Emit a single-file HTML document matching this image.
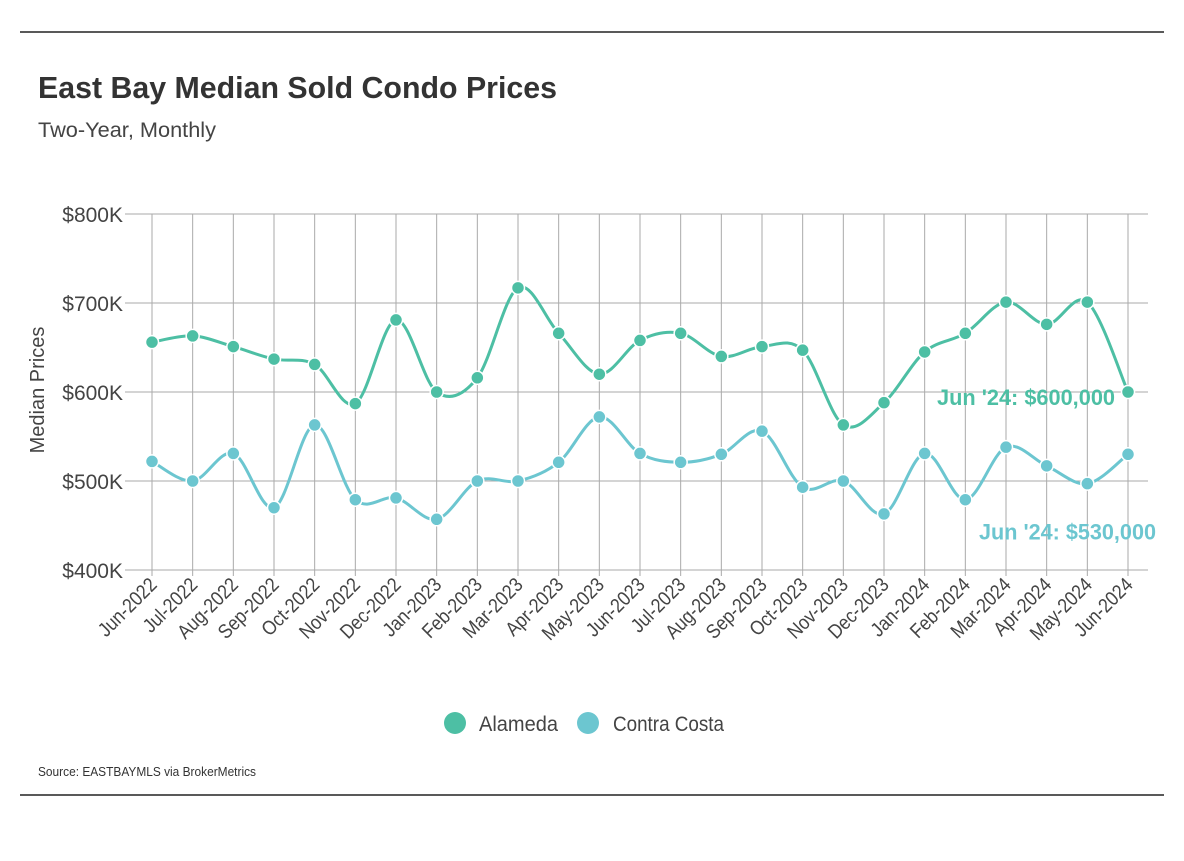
<!DOCTYPE html>
<html><head><meta charset="utf-8"><style>
body{margin:0;background:#fff;width:1184px;height:856px;overflow:hidden;font-family:"Liberation Sans Narrow","Liberation Sans",sans-serif;}
svg text{font-family:"Liberation Sans Narrow","Liberation Sans",sans-serif;}
</style></head><body>
<svg width="1184" height="856">
<line x1="20" y1="32" x2="1164" y2="32" stroke="#222" stroke-width="1.5"/>
<line x1="20" y1="795" x2="1164" y2="795" stroke="#222" stroke-width="1.5"/>
<text x="38" y="98" font-size="31" font-weight="bold" fill="#333" textLength="519" lengthAdjust="spacingAndGlyphs">East Bay Median Sold Condo Prices</text>
<text x="38" y="137" font-size="21" fill="#444" textLength="178" lengthAdjust="spacingAndGlyphs">Two-Year, Monthly</text>
<text transform="translate(44,390) rotate(-90)" text-anchor="middle" font-size="20" fill="#444">Median Prices</text>
<g id="grid"></g><g id="series"></g>
<g>
<circle cx="455" cy="723" r="11" fill="#4dbfa4"/>
<text x="479" y="731" font-size="21" fill="#444" textLength="79" lengthAdjust="spacingAndGlyphs">Alameda</text>
<circle cx="588" cy="723" r="11" fill="#6cc6d0"/>
<text x="613" y="731" font-size="21" fill="#444" textLength="111" lengthAdjust="spacingAndGlyphs">Contra Costa</text>
</g>
<text x="38" y="776" font-size="13" fill="#333" textLength="218" lengthAdjust="spacingAndGlyphs">Source:  EASTBAYMLS via BrokerMetrics</text>
</svg>
<script>
const categories=["Jun-2022","Jul-2022","Aug-2022","Sep-2022","Oct-2022","Nov-2022","Dec-2022","Jan-2023","Feb-2023","Mar-2023","Apr-2023","May-2023","Jun-2023","Jul-2023","Aug-2023","Sep-2023","Oct-2023","Nov-2023","Dec-2023","Jan-2024","Feb-2024","Mar-2024","Apr-2024","May-2024","Jun-2024"];
const alameda=[656,663,651,637,631,587,681,600,616,717,666,620,658,666,640,651,647,563,588,645,666,701,676,701,600];
const contraCosta=[522,500,531,470,563,479,481,457,500,500,521,572,531,521,530,556,493,500,463,531,479,538,517,497,530];
const yTicks=[400,500,600,700,800];
const yTickLabels=["$400K","$500K","$600K","$700K","$800K"];
const NS="http://www.w3.org/2000/svg";
const x0=152,x1=1128,yTop=214,yBot=570,vMin=400,vMax=800;
const xs=i=>x0+(x1-x0)*i/(categories.length-1);
const ys=v=>yBot-(v-vMin)/(vMax-vMin)*(yBot-yTop);
function mk(tag,attrs,parent){const e=document.createElementNS(NS,tag);for(const k in attrs)e.setAttribute(k,attrs[k]);parent.appendChild(e);return e;}
const grid=document.getElementById('grid'),ser=document.getElementById('series');
yTicks.forEach((t,i)=>{
 const l=mk('line',{x1:125,x2:1148,y1:ys(t),y2:ys(t),stroke:'#aaa','stroke-width':1},grid);
 
 
 const tx=mk('text',{x:123,y:ys(t)+8,'text-anchor':'end','font-size':21,fill:'#444'},grid);
 tx.textContent=yTickLabels[i];
 
 
});
categories.forEach((c,i)=>{
 const x=xs(i);
 const l=mk('line',{x1:x,x2:x,y1:yTop,y2:yBot+6,stroke:'#aaa','stroke-width':1},grid);
 
 
 const tx=mk('text',{transform:`translate(${x+6},${yBot+16}) rotate(-45) scale(0.88,1)`,'text-anchor':'end','font-size':20,fill:'#444'},grid);
 tx.textContent=c;
 
 
});
function path(vals){
 const p=vals.map((v,i)=>[xs(i),ys(v)]);let d=`M${p[0][0]},${p[0][1]}`;
 for(let i=0;i<p.length-1;i++){const a=p[Math.max(i-1,0)],b=p[i],c=p[i+1],e=p[Math.min(i+2,p.length-1)];
  d+=` C${b[0]+(c[0]-a[0])/6},${b[1]+(c[1]-a[1])/6} ${c[0]-(e[0]-b[0])/6},${c[1]-(e[1]-b[1])/6} ${c[0]},${c[1]}`;}
 return d;}
function draw(vals,color,name){
 const pth=mk('path',{d:path(vals),fill:'none',stroke:color,'stroke-width':3},ser);
 
 
 vals.forEach((v,i)=>{const c=mk('circle',{cx:xs(i),cy:ys(v),r:6.5,fill:color,stroke:'#fff','stroke-width':1.5},ser);
  
  });
}
draw(alameda,'#4dbfa4','alameda');
draw(contraCosta,'#6cc6d0','contra-costa');
const last=categories.length-1;
const a1=mk('text',{x:937,y:ys(alameda[last])+13,'font-size':22,'font-weight':'bold',fill:'#4dbfa4',textLength:178,lengthAdjust:'spacingAndGlyphs'},ser);
a1.textContent="Jun '24: $"+(alameda[last]*1000).toLocaleString('en-US');


const a2=mk('text',{x:979,y:ys(contraCosta[last])+85,'font-size':22,'font-weight':'bold',fill:'#6cc6d0',textLength:177,lengthAdjust:'spacingAndGlyphs'},ser);
a2.textContent="Jun '24: $"+(contraCosta[last]*1000).toLocaleString('en-US');


</script>
</body></html>
